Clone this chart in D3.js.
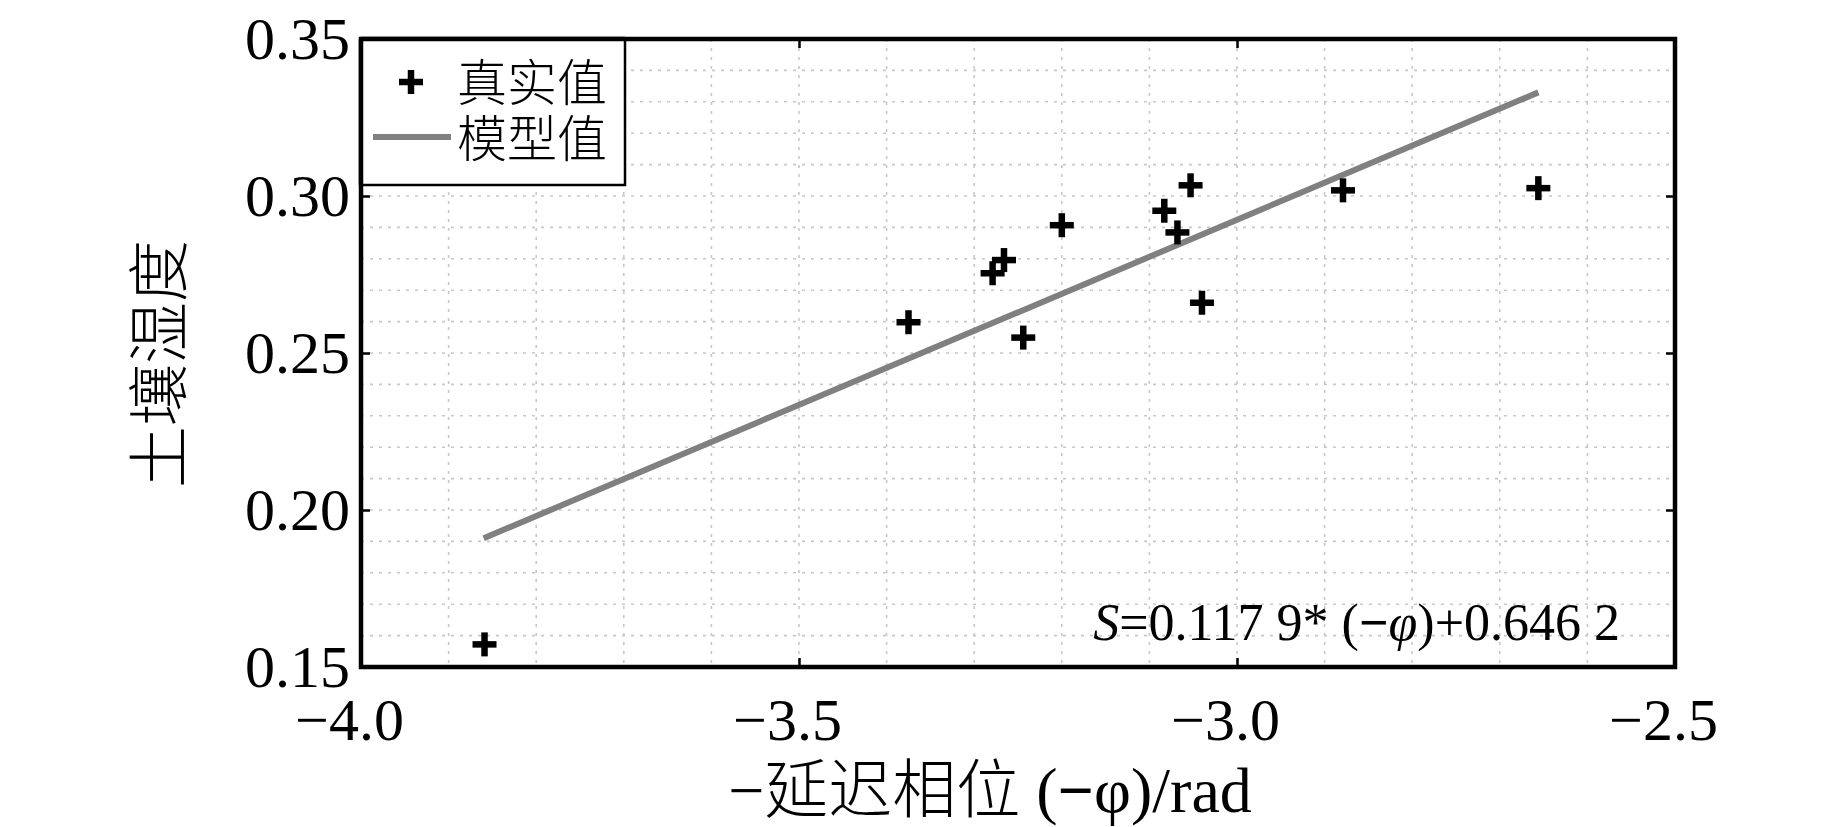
<!DOCTYPE html>
<html><head><meta charset="utf-8">
<script src="https://cdn.jsdelivr.net/npm/d3@7"></script>
<style>body{margin:0;background:#fff;} svg{display:block}</style>
</head><body><svg id="c" width="1843" height="827"></svg>
<script>
// ---- data ----
const trueX = [-3.859, -3.375, -3.279, -3.266, -3.244, -3.200, -3.083, -3.068, -3.053, -3.040, -2.879, -2.656];
const trueY = [0.1572, 0.2598, 0.2754, 0.2796, 0.2549, 0.2907, 0.2953, 0.2884, 0.3034, 0.2660, 0.3018, 0.3025];
const modelX = [-3.860, -2.656];
const modelY = [0.191, 0.333];
const xTicks = [-4.0, -3.5, -3.0, -2.5];
const xTickLabels = ["−4.0", "−3.5", "−3.0", "−2.5"];
const yTicks = [0.15, 0.20, 0.25, 0.30, 0.35];
const yTickLabels = ["0.15", "0.20", "0.25", "0.30", "0.35"];
const legendLabels = ["真实值", "模型值"];
const yTitle = "土壤湿度";

const serif = "'Liberation Serif','Times New Roman','Noto Sans CJK SC',serif";
const svg = d3.select("#c");
const L = 361, R = 1675, T = 39, B = 667;
const x = d3.scaleLinear().domain([-4.0, -2.5]).range([L, R]);
const y = d3.scaleLinear().domain([0.15, 0.35]).range([B, T]);

// grid
const gGrid = svg.append("g").attr("stroke", "#c8c8c8").attr("stroke-width", 1.6)
  .attr("stroke-dasharray", "3,6");
gGrid.selectAll("line.v").data(x.ticks(15)).join("line")
  .attr("x1", d => x(d)).attr("x2", d => x(d)).attr("y1", T).attr("y2", B);
gGrid.selectAll("line.h").data(y.ticks(20)).join("line")
  .attr("x1", L).attr("x2", R).attr("y1", d => y(d)).attr("y2", d => y(d));

// axes (inward ticks)
const tickFmtX = d => xTickLabels[xTicks.indexOf(d)];
const tickFmtY = d => yTickLabels[yTicks.findIndex(v => Math.abs(v - d) < 1e-9)];
function styleAxis(g) {
  g.select(".domain").remove();
  g.selectAll(".tick line").attr("stroke", "#000").attr("stroke-width", 2.5);
}
svg.append("g").attr("transform", `translate(0,${B})`)
  .call(d3.axisBottom(x).tickValues(xTicks).tickSize(-9).tickFormat(tickFmtX))
  .call(styleAxis)
  .call(g => g.selectAll("text").attr("font-family", serif).attr("font-size", 60)
    .attr("fill", "#000").attr("y", 73).attr("dy", 0).attr("dx", -12));
svg.append("g").attr("transform", `translate(0,${T})`)
  .call(d3.axisTop(x).tickValues(xTicks).tickSize(-9).tickFormat(""))
  .call(styleAxis);
svg.append("g").attr("transform", `translate(${L},0)`)
  .call(d3.axisLeft(y).tickValues(yTicks).tickSize(-9).tickFormat(tickFmtY))
  .call(styleAxis)
  .call(g => g.selectAll("text").attr("font-family", serif).attr("font-size", 60)
    .attr("fill", "#000").attr("x", -11).attr("dy", 19));
svg.append("g").attr("transform", `translate(${R},0)`)
  .call(d3.axisRight(y).tickValues(yTicks).tickSize(-9).tickFormat(""))
  .call(styleAxis);

// model line
const line = d3.line().x(d => x(d[0])).y(d => y(d[1]));
svg.append("path").datum(modelX.map((v, i) => [v, modelY[i]]))
  .attr("d", line).attr("fill", "none").attr("stroke", "#808080").attr("stroke-width", 6);

// true values (+ markers)
const plusSize = 24, plusW = 6.5;
const gPts = svg.append("g");
function plus(g, cx, cy) {
  g.append("line").attr("x1", cx - plusSize / 2).attr("x2", cx + plusSize / 2).attr("y1", cy).attr("y2", cy)
    .attr("stroke", "#000").attr("stroke-width", plusW);
  g.append("line").attr("x1", cx).attr("x2", cx).attr("y1", cy - plusSize / 2).attr("y2", cy + plusSize / 2)
    .attr("stroke", "#000").attr("stroke-width", plusW);
}
trueX.forEach((v, i) => plus(gPts, x(v), y(trueY[i])));

// frame
svg.append("rect").attr("x", L).attr("y", T).attr("width", R - L).attr("height", B - T)
  .attr("fill", "none").attr("stroke", "#000").attr("stroke-width", 4.5);

// legend
const lg = svg.append("g");
lg.append("rect").attr("x", L).attr("y", T).attr("width", 625 - L).attr("height", 185 - T)
  .attr("fill", "#fff").attr("stroke", "#000").attr("stroke-width", 2.5);
lg.append("line").attr("x1", L).attr("x2", 625).attr("y1", T).attr("y2", T)
  .attr("stroke", "#000").attr("stroke-width", 4.5);
lg.append("line").attr("x1", L).attr("x2", L).attr("y1", T).attr("y2", 185)
  .attr("stroke", "#000").attr("stroke-width", 4.5);
plus(lg, 411, 82);
lg.append("line").attr("x1", 373).attr("x2", 451).attr("y1", 137).attr("y2", 137)
  .attr("stroke", "#808080").attr("stroke-width", 6);
lg.selectAll("text").data(legendLabels).join("text")
  .attr("x", 457).attr("y", (d, i) => 82 + i * 56 + 19)
  .attr("font-family", serif).attr("font-size", 50).attr("font-weight", 300)
  .attr("fill", "#000").text(d => d);

// equation
const eq = svg.append("text").attr("x", 1620).attr("y", 640).attr("text-anchor", "end")
  .attr("font-family", serif).attr("font-size", 52).attr("fill", "#000");
eq.append("tspan").attr("font-style", "italic").text("S");
eq.append("tspan").text("=0.117 9* (");
eq.append("tspan").attr("font-weight", "bold").text("−");
eq.append("tspan").attr("font-style", "italic").text("φ");
eq.append("tspan").text(")+0.646 2");

// axis titles
const xt = svg.append("text").attr("x", 990).attr("y", 812).attr("text-anchor", "middle")
  .attr("font-family", serif).attr("font-size", 64).attr("font-weight", 300).attr("fill", "#000");
xt.append("tspan").text("−延迟相位 (");
xt.append("tspan").attr("font-weight", "bold").text("−");
xt.append("tspan").text("φ)/rad");

svg.append("text").attr("transform", "translate(182,364) rotate(-90)").attr("text-anchor", "middle")
  .attr("font-family", serif).attr("font-size", 62).attr("font-weight", 300)
  .attr("fill", "#000").text(yTitle);
</script></body></html>
